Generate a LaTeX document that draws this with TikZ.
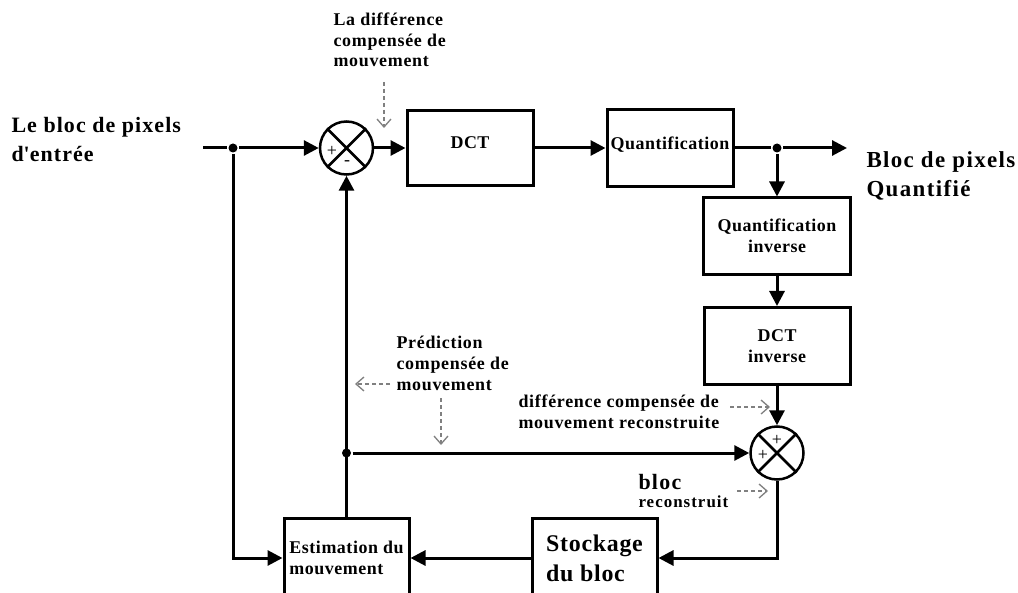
\documentclass[tikz,border=0pt]{standalone}
\usepackage{fontspec}
\setmainfont{Liberation Serif}
\usetikzlibrary{arrows.meta}
\begin{document}
\begin{tikzpicture}[x=1bp,y=-1bp,
  line width=3bp,
  box/.style={draw, line width=3bp, inner sep=0pt, font=\bfseries\fontsize{18}{21}\selectfont\addfontfeature{LetterSpace=3}, align=center},
  sumnode/.style={draw, circle, line width=2.5bp, minimum size=53bp, inner sep=0pt},
  flow/.style={-{Triangle[length=15bp,width=15bp]}, line width=3bp},
  hint/.style={draw=gray, dash pattern=on 4bp off 3bp, line width=1.3bp, -{Straight Barb[length=8bp,width=14bp,line width=1.3bp]}},
  lbl/.style={font=\bfseries\fontsize{18}{21}\selectfont\addfontfeature{LetterSpace=4}, align=left, inner sep=0pt},
  biglbl/.style={font=\bfseries\fontsize{22}{29}\selectfont\addfontfeature{LetterSpace=5}, align=left, inner sep=0pt},
  sign/.style={font=\fontsize{18}{18}\selectfont, inner sep=0pt},
  dot/.style={circle, fill, inner sep=0pt, minimum size=9bp},
]
\useasboundingbox (0,0) rectangle (1018,593);
\clip (0,0) rectangle (1018,593);
\fill[white] (0,0) rectangle (1018,593);

% summing junctions
\node[sumnode] (s1) at (346.5,148) {};
\draw[line width=2.5bp] (s1.north west) -- (s1.south east) (s1.north east) -- (s1.south west);
\node[sign] at (332,151) {+};
\node[sign] at (347,163) {-};

\node[sumnode] (s2) at (777,453) {};
\draw[line width=2.5bp] (s2.north west) -- (s2.south east) (s2.north east) -- (s2.south west);
\node[sign] at (777,440) {+};
\node[sign] at (763,455) {+};

% blocks
\node[box, minimum width=126bp, minimum height=75bp] (dct) at (470,148) {\raisebox{10bp}{DCT}};
\node[box, minimum width=126bp, minimum height=77bp] (quant) at (670,148) {\raisebox{10bp}{Quantification}};
\node[box, minimum width=147bp, minimum height=76bp] (qinv) at (777,236) {Quantification\\inverse};
\node[box, minimum width=146bp, minimum height=77bp] (dctinv) at (777,346) {DCT\\inverse};
\node[box, align=left, minimum width=125bp, minimum height=80bp] (est) at (346.5,558) {Estimation du\\mouvement};
\node[box, align=left, font=\bfseries\fontsize{24}{30}\selectfont\addfontfeature{LetterSpace=3}, minimum width=125bp, minimum height=80bp] (stock) at (594.5,558) {Stockage\\du bloc};

% junctions and free ends
\coordinate (in) at (203,148);
\node[dot] (j1) at (233,148) {};
\node[dot] (j2) at (777,148) {};
\coordinate (out) at (847,148);
\node[dot] (j3) at (346.5,453) {};

% connectors
\draw (in) -- (j1);
\draw[flow] (j1) -- (s1.west);
\draw[flow] (s1.east) -- (dct.west);
\draw[flow] (dct.east) -- (quant.west);
\draw (quant.east) -- (j2);
\draw[flow] (j2) -- (out);
\draw[flow] (j2) -- (qinv.north);
\draw[flow] (qinv.south) -- (dctinv.north);
\draw[flow] (dctinv.south) -- (s2.north);
\draw[flow] (j3) -- (s2.west);
\draw[flow] (est.north) -- (s1.south);
\draw[flow] (j1) |- (est.west);
\draw[flow] (s2.south) |- (stock.east);
\draw[flow] (stock.west) -- (est.east);

% labels
\node[biglbl, anchor=north west] (lin) at (10,116) {Le bloc de pixels\\d\textquotesingle entrée};
\node[biglbl, anchor=north west, font=\bfseries\fontsize{23}{29}\selectfont\addfontfeature{LetterSpace=6}] (lout) at (865,150) {Bloc de pixels\\Quantifié};
\node[lbl, anchor=north west] (ldiff) at (332,11) {La différence\\compensée de\\mouvement};
\node[lbl, anchor=north west] (lpred) at (395,335) {Prédiction\\compensée de\\mouvement};
\node[lbl, anchor=north west] (lrec) at (517,393) {différence compensée de\\mouvement reconstruite};
\node[lbl, anchor=north west] (lbloc) at (637,473) {{\fontsize{22}{24}\selectfont\addfontfeature{LetterSpace=6} bloc}\\[-3bp]{\fontsize{17}{18}\selectfont\addfontfeature{LetterSpace=6} reconstruit}};

% hint arrows
\coordinate (h1a) at (384,82);  \coordinate (h1b) at (384,128);
\coordinate (h2a) at (390,384); \coordinate (h2b) at (355,384);
\coordinate (h3a) at (441,398); \coordinate (h3b) at (441,445);
\coordinate (h4a) at (730,407); \coordinate (h4b) at (770,407);
\coordinate (h5a) at (737,491); \coordinate (h5b) at (768,491);
\draw[hint] (h1a) -- (h1b);
\draw[hint] (h2a) -- (h2b);
\draw[hint] (h3a) -- (h3b);
\draw[hint] (h4a) -- (h4b);
\draw[hint] (h5a) -- (h5b);
\end{tikzpicture}
\end{document}
